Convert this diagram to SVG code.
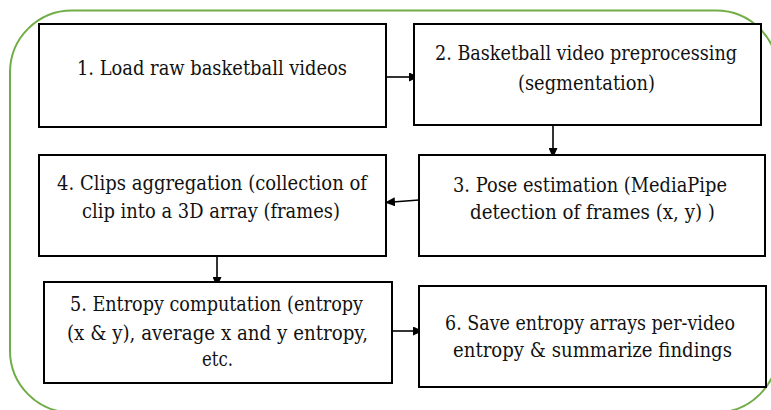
<svg xmlns="http://www.w3.org/2000/svg" width="771" height="410" viewBox="0 0 771 410">
<defs>
<style>
.box{fill:#fff;stroke:#000;stroke-width:2}
.t{font-family:'DejaVu Serif',serif;font-size:19.5px;fill:#111;text-anchor:middle}
.c{fill:none;stroke:#000;stroke-width:1.6}
</style>
<marker id="ah" viewBox="0 0 10 10" refX="9" refY="5" markerWidth="10" markerHeight="9" markerUnits="userSpaceOnUse" orient="auto" preserveAspectRatio="none">
<path d="M0,0 L10,5 L0,10 z" fill="#000"/>
</marker>
</defs>
<rect width="771" height="410" fill="#fff"/>
<rect id="frame" x="10" y="10.5" width="768" height="402" rx="62" ry="62" fill="none" stroke="#70AD47" stroke-width="2"/>
<g id="connectors">
<line class="c" x1="386" y1="77" x2="418" y2="77" marker-end="url(#ah)"/>
<line class="c" x1="553" y1="125" x2="553" y2="157" marker-end="url(#ah)"/>
<line class="c" x1="419" y1="200" x2="386" y2="202.5" marker-end="url(#ah)"/>
<line class="c" x1="217" y1="256" x2="217" y2="286" marker-end="url(#ah)"/>
<line class="c" x1="392" y1="331" x2="422" y2="331" marker-end="url(#ah)"/>
</g>
<g id="n1">
<rect class="box" x="39" y="24" width="347" height="103"/>
<text class="t" x="212" y="75" textLength="270" lengthAdjust="spacingAndGlyphs">1. Load raw basketball videos</text>
</g>
<g id="n2">
<rect class="box" x="414" y="24" width="347" height="101"/>
<text class="t" x="586" y="60" textLength="302" lengthAdjust="spacingAndGlyphs">2. Basketball video preprocessing</text>
<text class="t" x="586.5" y="90" textLength="137" lengthAdjust="spacingAndGlyphs">(segmentation)</text>
</g>
<g id="n3">
<rect class="box" x="419" y="155" width="346" height="101"/>
<text class="t" x="590" y="192" textLength="274" lengthAdjust="spacingAndGlyphs">3. Pose estimation (MediaPipe</text>
<text class="t" x="592.5" y="219" textLength="245" lengthAdjust="spacingAndGlyphs">detection of frames (x, y) )</text>
</g>
<g id="n4">
<rect class="box" x="39" y="155" width="347" height="101"/>
<text class="t" x="212" y="190" textLength="310" lengthAdjust="spacingAndGlyphs">4. Clips aggregation (collection of</text>
<text class="t" x="211" y="218" textLength="258" lengthAdjust="spacingAndGlyphs">clip into a 3D array (frames)</text>
</g>
<g id="n5">
<rect class="box" x="44" y="282" width="348" height="101"/>
<text class="t" x="216.5" y="311" textLength="293" lengthAdjust="spacingAndGlyphs">5. Entropy computation (entropy</text>
<text class="t" x="217.5" y="340" textLength="301" lengthAdjust="spacingAndGlyphs">(x &amp; y), average x and y entropy,</text>
<text class="t" x="217.5" y="366" textLength="31" lengthAdjust="spacingAndGlyphs">etc.</text>
</g>
<g id="n6">
<rect class="box" x="419" y="286" width="347" height="101"/>
<text class="t" x="590" y="330" textLength="290" lengthAdjust="spacingAndGlyphs">6. Save entropy arrays per-video</text>
<text class="t" x="592.5" y="357" textLength="279" lengthAdjust="spacingAndGlyphs">entropy &amp; summarize findings</text>
</g>
</svg>
